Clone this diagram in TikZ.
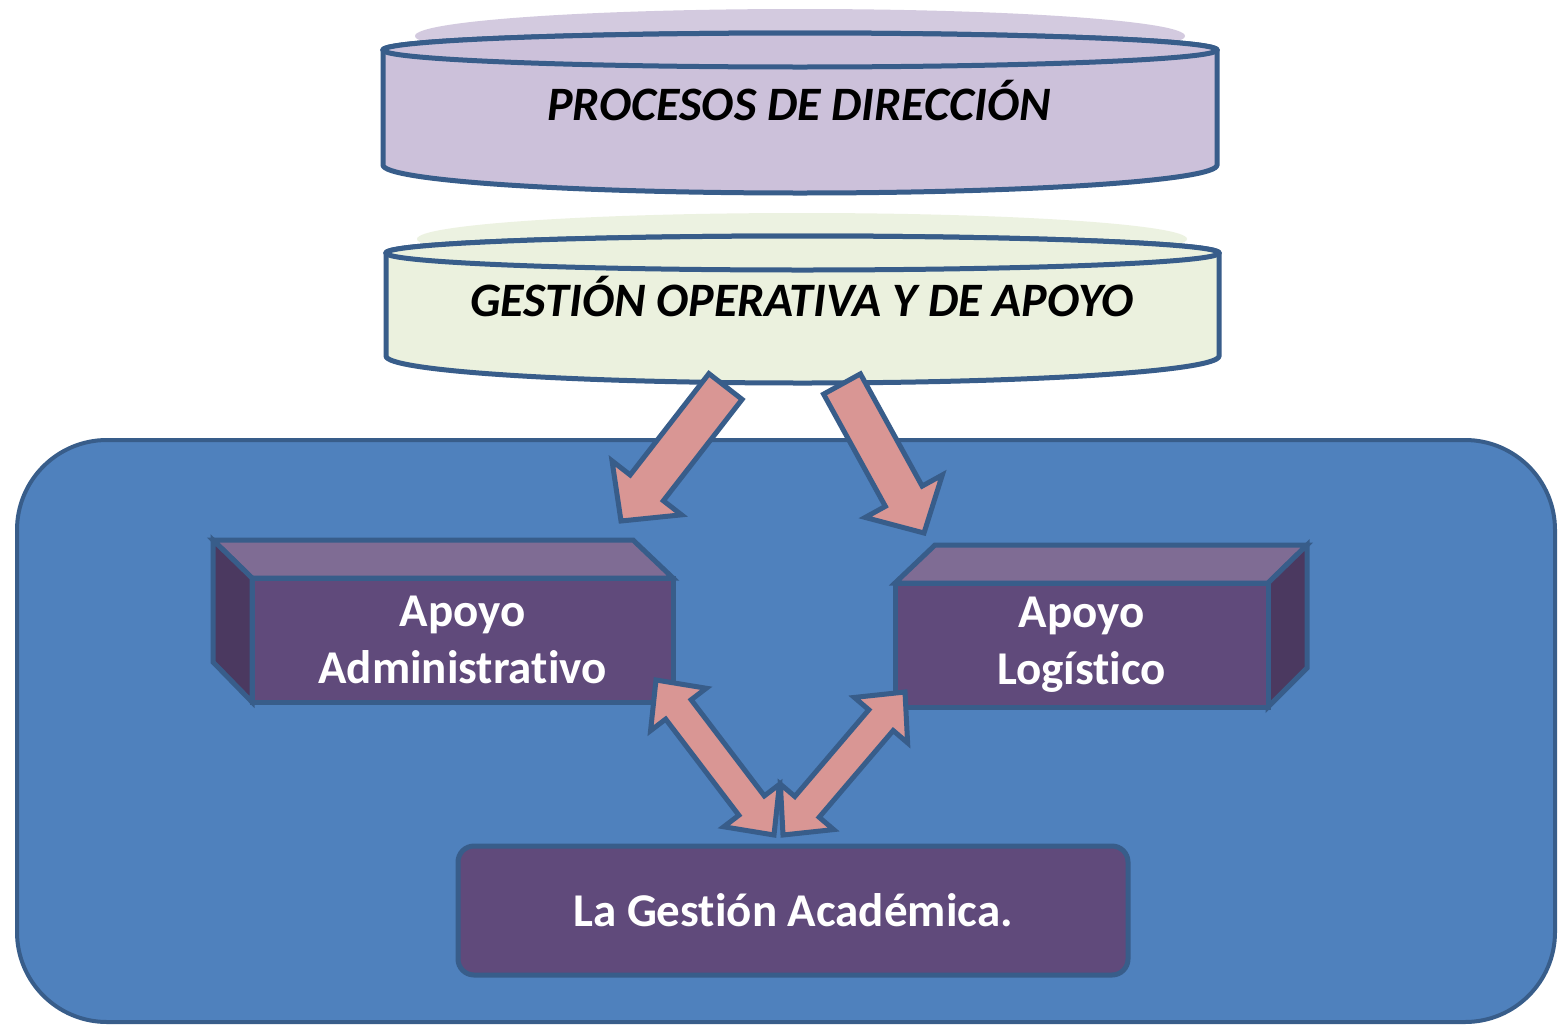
\documentclass[tikz,border=0pt]{standalone}
\usepackage{fontspec}
\setmainfont{Carlito}[Ligatures=NoCommon]
\usetikzlibrary{calc}
\definecolor{frame}{HTML}{385D8A}
\definecolor{bgblue}{HTML}{4F81BD}
\definecolor{lilac}{HTML}{CCC1DA}
\definecolor{pale}{HTML}{EBF1DE}
\definecolor{boxfront}{HTML}{604A7B}
\definecolor{boxtop}{HTML}{7F6C94}
\definecolor{boxside}{HTML}{4B3960}
\definecolor{arrowfill}{HTML}{D99694}
\tikzset{
  outline/.style={draw=frame, line width=5pt, line join=miter},
  blockarr/.style={outline, fill=arrowfill},
  cyltext/.style={font=\fontsize{48}{57}\selectfont\bfseries\itshape, text=black, inner sep=0pt},
  boxtext/.style={font=\fontsize{47}{57}\selectfont\bfseries, text=white, align=center},
  frontface/.style={outline, fill=boxfront, inner sep=0pt},
}
% #1 start, #2 end, #3 shaft half width, #4 head half width, #5 head length
\newcommand{\blockarrow}[5]{%
  \coordinate (ba-h) at ($(#2)!#5pt!(#1)$);
  \draw[blockarr] ($(#1)!#3pt!90:(#2)$) -- ($(ba-h)!#3pt!90:(#2)$) -- ($(ba-h)!#4pt!90:(#2)$)
    -- (#2) -- ($(ba-h)!#4pt!-90:(#2)$) -- ($(ba-h)!#3pt!-90:(#2)$) -- ($(#1)!#3pt!-90:(#2)$) -- cycle;
}
\newcommand{\doublearrow}[5]{%
  \coordinate (da-a) at ($(#1)!#5pt!(#2)$);
  \coordinate (da-b) at ($(#2)!#5pt!(#1)$);
  \draw[blockarr] (#1) -- ($(da-a)!#4pt!90:(#2)$) -- ($(da-a)!#3pt!90:(#2)$)
    -- ($(da-b)!#3pt!90:(#2)$) -- ($(da-b)!#4pt!90:(#2)$) -- (#2)
    -- ($(da-b)!#4pt!-90:(#2)$) -- ($(da-b)!#3pt!-90:(#2)$)
    -- ($(da-a)!#3pt!-90:(#2)$) -- ($(da-a)!#4pt!-90:(#2)$) -- cycle;
}
% cylinder: #1 left, #2 right, #3 top centre y, #4 top ry, #5 bottom centre y, #6 bottom ry, #7 colour
\newcommand{\drawcan}[7]{%
  \draw[outline, fill=#7] (#1,#3) -- (#1,#5)
    arc[start angle=180, end angle=360, x radius={(#2-#1)/2}, y radius=#6]
    -- (#2,#3) arc[start angle=0, end angle=180, x radius={(#2-#1)/2}, y radius=#4] -- cycle;
  \draw[outline, fill=#7] ({(#1+#2)/2},#3) ellipse[x radius={(#2-#1)/2}, y radius=#4];
}
\begin{document}
\begin{tikzpicture}[x=1pt, y=1pt]
\useasboundingbox (0,0) rectangle (1563,-1031);
\fill[white] (0,0) rectangle (1563,-1031);

% background panel
\draw[draw=frame, line width=4pt, fill=bgblue, rounded corners=90pt] (17,-440) rectangle (1555,-1022);

% cylinder 1
\fill[lilac, opacity=0.85] (800,-36) ellipse[x radius=385, y radius=27];
\drawcan{383}{1217}{-50}{17}{-165}{28}{lilac}
\node[cyltext] (proc) at (799,-101) {PROCESOS DE DIRECCIÓN};

% cylinder 2
\fill[pale, opacity=0.9] (802,-239) ellipse[x radius=385, y radius=26];
\drawcan{386}{1219}{-253}{17}{-356}{27}{pale}
\node[cyltext] (gest) at (802,-297) {GESTIÓN OPERATIVA Y DE APOYO};

% left box
\draw[outline, fill=boxtop] (213,-540) -- (633,-540) -- (673,-578) -- (252,-578) -- cycle;
\draw[outline, fill=boxside] (213,-540) -- (252,-578) -- (252,-702) -- (213,-662) -- cycle;
\node[frontface, minimum width=421pt, minimum height=124pt] (adm) at (462.5,-640) {};
\node[boxtext] at (adm.center) {Apoyo\\Administrativo};

% right box
\draw[outline, fill=boxtop] (935,-545) -- (1307,-545) -- (1268,-583) -- (895,-583) -- cycle;
\draw[outline, fill=boxside] (1268,-583) -- (1307,-545) -- (1307,-668) -- (1268,-707) -- cycle;
\node[frontface, minimum width=373pt, minimum height=124pt] (log) at (1081.5,-645) {};
\node[boxtext] at (log.center) {Apoyo\\Logístico};

% bottom box
\node[frontface, rounded corners=16pt, minimum width=670pt, minimum height=129pt,
      boxtext] (acad) at (793,-910.5) {La Gestión Académica.};

% arrow end points
\coordinate (a1s) at (725.5,-386.5);
\coordinate (a1e) at (621,-521);
\coordinate (a2s) at (842,-384);
\coordinate (a2e) at (924,-533);
\coordinate (a3s) at (656,-680);
\coordinate (a3e) at (774,-835);
\coordinate (a4s) at (783,-835);
\coordinate (a4e) at (905,-692);

\blockarrow{a1s}{a1e}{21}{44}{42}
\blockarrow{a2s}{a2e}{21}{44}{42}
\doublearrow{a3s}{a3e}{16}{35}{37}
\doublearrow{a4s}{a4e}{16}{35}{37}
\end{tikzpicture}
\end{document}
